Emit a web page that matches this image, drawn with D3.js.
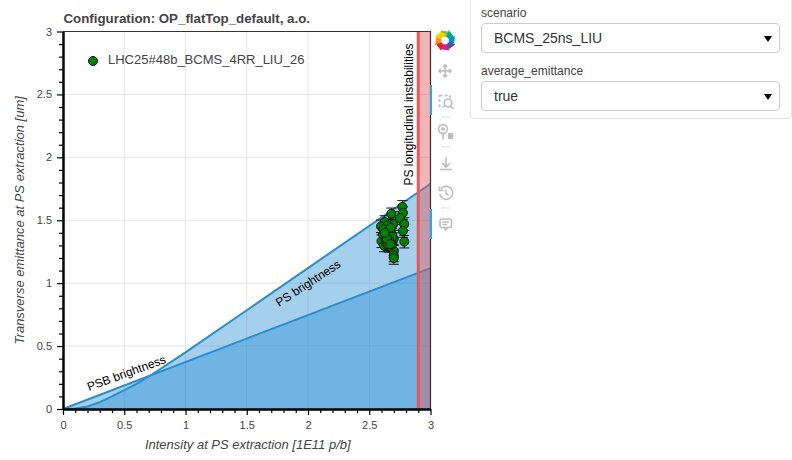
<!DOCTYPE html>
<html><head><meta charset="utf-8">
<script src="https://cdn.jsdelivr.net/npm/d3@7"></script>
<style>
html,body{margin:0;padding:0;background:#fff;width:792px;height:460px;overflow:hidden;font-family:"Liberation Sans",Arial,sans-serif}
#c{position:absolute;left:0;top:0}
.panel{position:absolute;left:470px;top:-8px;width:322px;height:127px;border:1px solid #e4e4e4;border-radius:4px;box-sizing:border-box}
.lab{position:absolute;left:481px;font-size:12px;color:#444}
.sel{position:absolute;left:481px;width:299px;height:30px;border:1px solid #ccc;border-radius:4px;box-sizing:border-box;font-size:14px;color:#333;line-height:28px;padding-left:12px}
.sel:after{content:"";position:absolute;right:7px;top:12px;border-left:4px solid transparent;border-right:4px solid transparent;border-top:6px solid #000}
</style></head><body>
<svg id="c" width="792" height="460"></svg>
<div class="panel"></div>
<div class="lab" style="top:6px">scenario</div>
<div class="sel" style="top:23px">BCMS_25ns_LIU</div>
<div class="lab" style="top:64px">average_emittance</div>
<div class="sel" style="top:81px">true</div>
<script>
const titleText="Configuration: OP_flatTop_default, a.o.";
const xLabel="Intensity at PS extraction [1E11 p/b]";
const yLabel="Transverse emittance at PS extraction [um]";
const legendLabel="LHC25#48b_BCMS_4RR_LIU_26";
const tickValues=[0,0.5,1,1.5,2,2.5,3];
const tickLabels=["0","0.5","1","1.5","2","2.5","3"];
const minorTicks=[0.1,0.2,0.3,0.4,0.6,0.7,0.8,0.9,1.1,1.2,1.3,1.4,1.6,1.7,1.8,1.9,2.1,2.2,2.3,2.4,2.6,2.7,2.8,2.9];
const psbX=[0,3];
const psbY=[0,1.12];
const psX=[0,0.1,0.2,0.3,0.4,0.5,0.6,0.72,1,3];
const psY=[0,0.004,0.02,0.055,0.1,0.15,0.2,0.27,0.45,1.79];
const limitX=2.9;
const limitEnd=3;
const intensity=[2.77,2.775,2.75,2.786,2.775,2.786,2.68,2.696,2.70,2.70,2.70,2.626,2.596,2.65,2.645,2.6,2.637,2.686,2.612,2.686,2.62,2.645,2.665,2.635,2.70,2.68,2.66,2.63,2.655,2.615,2.64,2.675,2.69,2.65,2.66,2.645,2.625,2.67];
const emittance=[1.606,1.558,1.518,1.47,1.415,1.33,1.552,1.47,1.256,1.22,1.2,1.486,1.452,1.46,1.42,1.333,1.333,1.386,1.386,1.306,1.3,1.37,1.355,1.36,1.35,1.33,1.296,1.41,1.39,1.43,1.32,1.44,1.37,1.31,1.345,1.35,1.4,1.31];
const emittanceErr=[0.05,0.05,0.05,0.05,0.05,0.05,0.045,0.05,0.05,0.05,0.05,0.05,0.05,0.05,0.05,0.05,0.05,0.05,0.05,0.05,0.05,0.05,0.05,0.05,0.05,0.05,0.05,0.05,0.05,0.05,0.05,0.05,0.05,0.05,0.05,0.05,0.05,0.05];

const svg=d3.select("#c");
const L=63,R=430.5,T=31.5,B=409;
const x=d3.scaleLinear().domain([0,3]).range([L,R]);
const y=d3.scaleLinear().domain([0,3]).range([B,T]);
const font='"Liberation Sans",Arial,sans-serif';

// grid
svg.append("g").selectAll("line").data(tickValues.slice(1,-1)).join("line")
 .attr("x1",d=>x(d)).attr("x2",d=>x(d)).attr("y1",T).attr("y2",B).attr("stroke","#e5e5e5");
svg.append("g").selectAll("line").data(tickValues.slice(1,-1)).join("line")
 .attr("y1",d=>y(d)).attr("y2",d=>y(d)).attr("x1",L).attr("x2",R).attr("stroke","#e5e5e5");

// brightness areas
const pts=(xs,ys)=>xs.map((v,i)=>[v,ys[i]]);
const area=d3.area().x(d=>x(d[0])).y0(y(0)).y1(d=>y(d[1]));
const line=d3.line().x(d=>x(d[0])).y(d=>y(d[1]));
[[psbX,psbY],[psX,psY]].forEach(([a,b])=>{
 svg.append("path").attr("d",area(pts(a,b))).attr("fill","#2b8fd6").attr("fill-opacity",0.43);
});
[[psbX,psbY],[psX,psY]].forEach(([a,b])=>{
 svg.append("path").attr("d",line(pts(a,b))).attr("fill","none").attr("stroke","#2b8ccf").attr("stroke-width",2);
});

// PS limit band
svg.append("rect").attr("x",x(limitX)).attr("width",x(limitEnd)-x(limitX)).attr("y",T).attr("height",B-T)
 .attr("fill","#e4595a").attr("fill-opacity",0.45);
svg.append("line").attr("x1",x(limitX)).attr("x2",x(limitX)).attr("y1",T).attr("y2",B)
 .attr("stroke","#e4595a").attr("stroke-width",3);

// error bars and points
const eb=svg.append("g").attr("stroke","#111").attr("stroke-width",1);
intensity.forEach((v,i)=>{
 const px=x(v),hi=y(emittance[i]+emittanceErr[i]),lo=y(emittance[i]-emittanceErr[i]);
 eb.append("line").attr("x1",px).attr("x2",px).attr("y1",hi).attr("y2",lo);
 eb.append("line").attr("x1",px-5).attr("x2",px+5).attr("y1",hi).attr("y2",hi);
 eb.append("line").attr("x1",px-5).attr("x2",px+5).attr("y1",lo).attr("y2",lo);
});
svg.append("g").selectAll("circle").data(intensity).join("circle")
 .attr("cx",d=>x(d)).attr("cy",(d,i)=>y(emittance[i])).attr("r",4.5)
 .attr("fill","#008000").attr("stroke","#111").attr("stroke-width",1);

// frame
svg.append("path").attr("d",`M${L},${T}H${R}V${B}`).attr("fill","none").attr("stroke","#333").attr("stroke-width",1.2);

// axes
function styleAxis(g){
 g.select(".domain").attr("stroke","#000").attr("stroke-width",2);
 g.selectAll("text").attr("font-family",font).attr("font-size",11).attr("fill","#444");
 g.selectAll("line").attr("stroke","#000").attr("stroke-width",1.2);
}
const xa=svg.append("g").attr("transform",`translate(0,${B})`);
xa.call(d3.axisBottom(x).tickValues(tickValues).tickFormat((d,i)=>tickLabels[i]).tickSize(6).tickPadding(6).tickSizeOuter(0)).call(styleAxis);
const ya=svg.append("g").attr("transform",`translate(${L},0)`);
ya.call(d3.axisLeft(y).tickValues(tickValues).tickFormat((d,i)=>tickLabels[i]).tickSize(6).tickPadding(5).tickSizeOuter(0)).call(styleAxis);
const xm=svg.append("g").attr("transform",`translate(0,${B})`);
xm.call(d3.axisBottom(x).tickValues(minorTicks).tickFormat("").tickSize(4).tickSizeOuter(0)).call(styleAxis);
const ym=svg.append("g").attr("transform",`translate(${L},0)`);
ym.call(d3.axisLeft(y).tickValues(minorTicks).tickFormat("").tickSize(4).tickSizeOuter(0)).call(styleAxis);

// text
const text=(s,px,py,o={})=>svg.append("text").text(s).attr("x",px).attr("y",py)
 .attr("font-family",font).attr("font-size",o.size||12).attr("fill",o.fill||"#444")
 .attr("font-weight",o.weight||null).attr("font-style",o.style||null)
 .attr("text-anchor",o.anchor||"start").attr("transform",o.rot!=null?`rotate(${o.rot},${px},${py})`:null);
text(titleText,63.5,22.5,{size:13.3,weight:"bold"});
text(xLabel,(L+R)/2+1,449,{size:13,style:"italic",anchor:"middle"});
text(yLabel,24,(T+B)/2,{size:13,style:"italic",anchor:"middle",rot:-90});
text(legendLabel,108,64,{size:13});
svg.append("circle").attr("cx",93).attr("cy",61).attr("r",4.5).attr("fill","#008000").attr("stroke","#111");
text("PSB brightness",89,391,{size:12,fill:"#000",rot:-20});
text("PS brightness",279,307,{size:12,fill:"#000",rot:-33});
text("PS longitudinal instabilities",413,185.5,{size:12,fill:"#000",rot:-90});

// toolbar
const logoColors=["#7ac143","#00a88f","#0091d5","#5b4a9e","#c4288c","#e5202e","#f7931d","#fbd000"];
const lg=svg.append("g").attr("transform","translate(445,40.5)");
logoColors.forEach((c,i)=>{
 lg.append("path").attr("d","M-4.5,-10L3,-9L5.5,-3.5L-2,-4Z").attr("fill",c).attr("transform",`rotate(${i*45})`);
});
const ic=svg.append("g").attr("fill","none").attr("stroke","#bdbdbd").attr("stroke-width",1.6);
// pan
ic.append("path").attr("d","M445,65V77M439,71H451M443,67l2,-2l2,2M443,75l2,2l2,-2M441,69l-2,2l2,2M449,69l2,2l-2,2");
// box zoom
ic.append("rect").attr("x",439.5).attr("y",95.5).attr("width",10.5).attr("height",11).attr("stroke-dasharray","3 2.2");
ic.append("circle").attr("cx",448).attr("cy",103).attr("r",3.8).attr("fill","#fff");
ic.append("path").attr("d","M450.5,106l3,3");
// wheel zoom
ic.append("circle").attr("cx",443).attr("cy",129).attr("r",4.4);
ic.append("path").attr("d","M443,133.5v6M441,129h4M443,127v4");
ic.append("rect").attr("x",448).attr("y",133).attr("width",5).attr("height",6).attr("fill","#bdbdbd").attr("stroke","none");
// save
ic.append("path").attr("d","M446,157v10M442,163l4,4l4,-4M440,169.5h12");
// reset
ic.append("path").attr("d","M441,189a6.5,6.5 0 1 1 -1.2,5M439.5,186.5v4h4M446,189.5v4l2.5,1.5");
// comment
ic.append("rect").attr("x",440).attr("y",219).attr("width",11.5).attr("height",8.5).attr("rx",2);
ic.append("path").attr("d","M444,227.5l1.7,2.5l1.7,-2.5M442.5,222h6.5M442.5,224.5h4.5");
svg.append("g").selectAll("line").data([117,147,208]).join("line")
 .attr("x1",441).attr("x2",450).attr("y1",d=>d).attr("y2",d=>d).attr("stroke","#ddd");
svg.append("g").selectAll("rect").data([85,209]).join("rect")
 .attr("x",430).attr("y",d=>d).attr("width",2).attr("height",30).attr("fill","#26aae1");
</script>
</body></html>
